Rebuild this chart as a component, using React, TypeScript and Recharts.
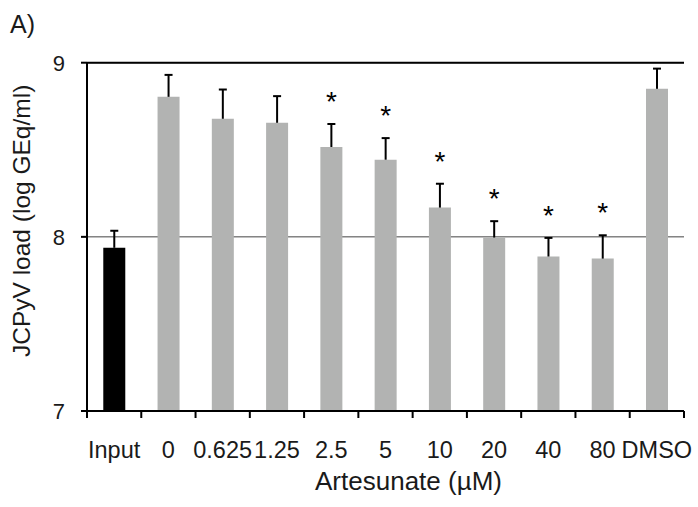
import { BarChart, Bar, Cell, XAxis, YAxis, CartesianGrid, ReferenceLine, LabelList, Label } from 'recharts'

const FONT = '"Liberation Sans", Arial, Helvetica, sans-serif'

// groups along the x axis
const categories = ['Input', '0', '0.625', '1.25', '2.5', '5', '10', '20', '40', '80', 'DMSO']
// mean JCPyV load, log GEq/ml
const loads = [7.937, 8.804, 8.678, 8.655, 8.516, 8.443, 8.168, 7.996, 7.887, 7.875, 8.85]
// upper error (SD) above each bar
const sdUpper = [0.098, 0.126, 0.168, 0.153, 0.132, 0.124, 0.137, 0.094, 0.107, 0.134, 0.116]
// asterisk marks
const significant = [false, false, false, false, true, true, true, true, true, true, false]
const yTicks = [7, 8, 9]

const data = categories.map((name, i) => ({ name, value: loads[i], sd: sdUpper[i] }))

const CategoryTick = (props: any) => {
  const { x, y, payload, index, visibleTicksCount, width } = props
  const half = payload?.offset ?? width / visibleTicksCount / 2
  const last = index === categories.length - 1
  return (
    <g>
      <line x1={x - half} x2={x - half} y1={y} y2={y + 7} stroke="#000" strokeWidth={2} />
      {last && <line x1={x + half} x2={x + half} y1={y} y2={y + 7} stroke="#000" strokeWidth={2} />}
      <text x={x} y={y + 46.5} textAnchor="middle" fontSize={23.5} fill="#1a1a1a" fontFamily={FONT}>
        {payload.value}
      </text>
    </g>
  )
}

// upper error bar + significance star, placed with the bar's own pixel scale
const ErrorAndStar = (props: any) => {
  const vb = props.viewBox || props
  const i = props.index
  const x = Number(vb.x)
  const w = Number(vb.width)
  const h = Math.abs(Number(vb.height))
  const top = Math.min(Number(vb.y), Number(vb.y) + Number(vb.height))
  const k = h / (loads[i] - 7)
  const cx = x + w / 2
  const errTop = top - sdUpper[i] * k
  return (
    <g>
      <line x1={cx} x2={cx} y1={top} y2={errTop} stroke="#000" strokeWidth={2} />
      <line x1={cx - 4} x2={cx + 4} y1={errTop} y2={errTop} stroke="#000" strokeWidth={2} />
      {significant[i] && (
        <text x={cx} y={errTop - 13} textAnchor="middle" fontSize={28} fill="#000" fontFamily={FONT}>
          *
        </text>
      )}
    </g>
  )
}

const YTitle = ({ viewBox }: any) => {
  const cy = viewBox.y + viewBox.height / 2 - 16
  return (
    <text
      x={30}
      y={cy}
      transform={`rotate(-90, 30, ${cy})`}
      textAnchor="middle"
      fontSize={24.5}
      fill="#1a1a1a"
      fontFamily={FONT}
    >
      JCPyV load (log GEq/ml)
    </text>
  )
}

const XTitle = ({ viewBox }: any) => (
  <text
    x={viewBox.x + viewBox.width / 2 + 23}
    y={viewBox.y + 79}
    textAnchor="middle"
    fontSize={26}
    fill="#1a1a1a"
    fontFamily={FONT}
  >
    Artesunate (µM)
  </text>
)

export default function App() {
  return (
    <div style={{ position: 'relative', width: 698, height: 507, fontFamily: FONT }}>
      <style>{'body{margin:0;overflow:hidden}'}</style>
      <BarChart
        width={698}
        height={507}
        data={data}
        margin={{ top: 62.7, right: 14, bottom: 0, left: 0 }}
        barCategoryGap="30%"
      >
        <CartesianGrid vertical={false} stroke="#444" strokeWidth={1} />
        <XAxis
          dataKey="name"
          interval={0}
          height={96}
          tickSize={0}
          tickMargin={0}
          tickLine={false}
          axisLine={{ stroke: '#000', strokeWidth: 2 }}
          tick={<CategoryTick />}
        >
          <Label content={<XTitle />} />
        </XAxis>
        <YAxis
          domain={[7, 9]}
          ticks={yTicks}
          width={87}
          tickSize={6}
          tickMargin={16}
          axisLine={{ stroke: '#000', strokeWidth: 2 }}
          tickLine={{ stroke: '#000', strokeWidth: 2 }}
          tick={{ fill: '#1a1a1a', fontSize: 22, fontFamily: FONT }}
        >
          <Label content={<YTitle />} />
        </YAxis>
        <YAxis
          yAxisId="right"
          orientation="right"
          width={0}
          domain={[7, 9]}
          tick={false}
          tickLine={false}
          axisLine={{ stroke: '#000', strokeWidth: 2 }}
        />
        <ReferenceLine y={9} stroke="#000" strokeWidth={2} />
        <Bar dataKey="value" isAnimationActive={false}>
          {data.map((d, i) => (
            <Cell key={d.name} fill={i === 0 ? '#000' : '#b2b3b2'} />
          ))}
          <LabelList dataKey="value" content={<ErrorAndStar />} />
        </Bar>
      </BarChart>
      <div style={{ position: 'absolute', left: 10, top: 12, fontSize: 25, lineHeight: '25px', color: '#1a1a1a' }}>
        A)
      </div>
    </div>
  )
}
